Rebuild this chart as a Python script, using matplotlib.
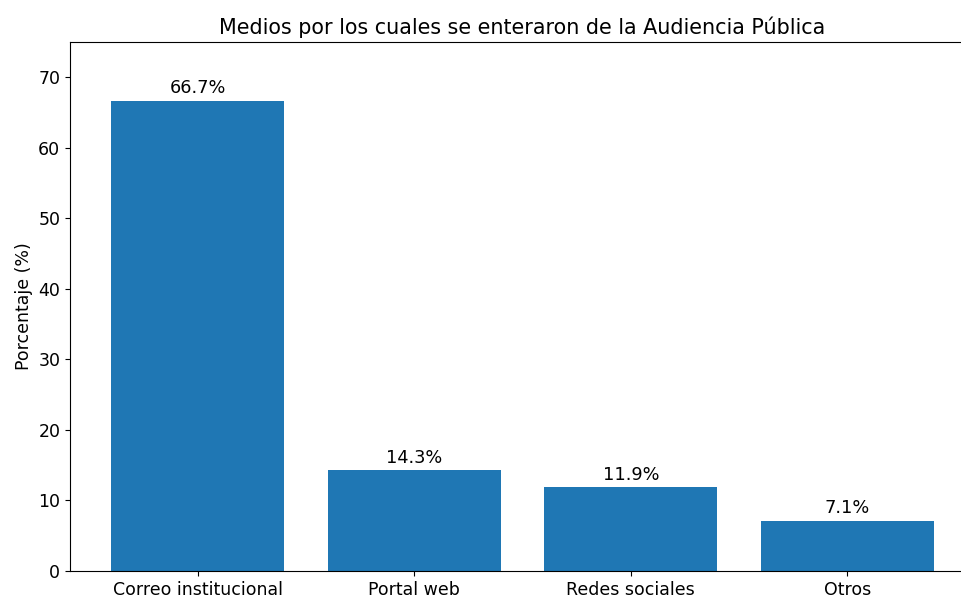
import matplotlib
matplotlib.use('Agg')
from matplotlib import pyplot as plt

categorias = ['Correo institucional', 'Portal web', 'Redes sociales', 'Otros']
porcentajes = [66.7, 14.3, 11.9, 7.1]

fig = plt.figure(figsize=(9.62, 5.99), dpi=100)
ax = fig.add_axes([70 / 962, 1 - 571 / 599, 905 / 962, 529 / 599])

bars = ax.bar(categorias, porcentajes, color='#1f77b4')
for b, v in zip(bars, porcentajes):
    ax.text(b.get_x() + b.get_width() / 2, v + 0.5, f'{v}%',
            ha='center', va='bottom', fontsize=12.8)

ax.set_ylim(0, 75)
ax.set_ylabel('Porcentaje (%)', fontsize=12.5)
ax.set_title('Medios por los cuales se enteraron de la Audiencia Pública', fontsize=14.9)
ax.tick_params(labelsize=12.5)

fig.savefig('out.png', dpi=100)
